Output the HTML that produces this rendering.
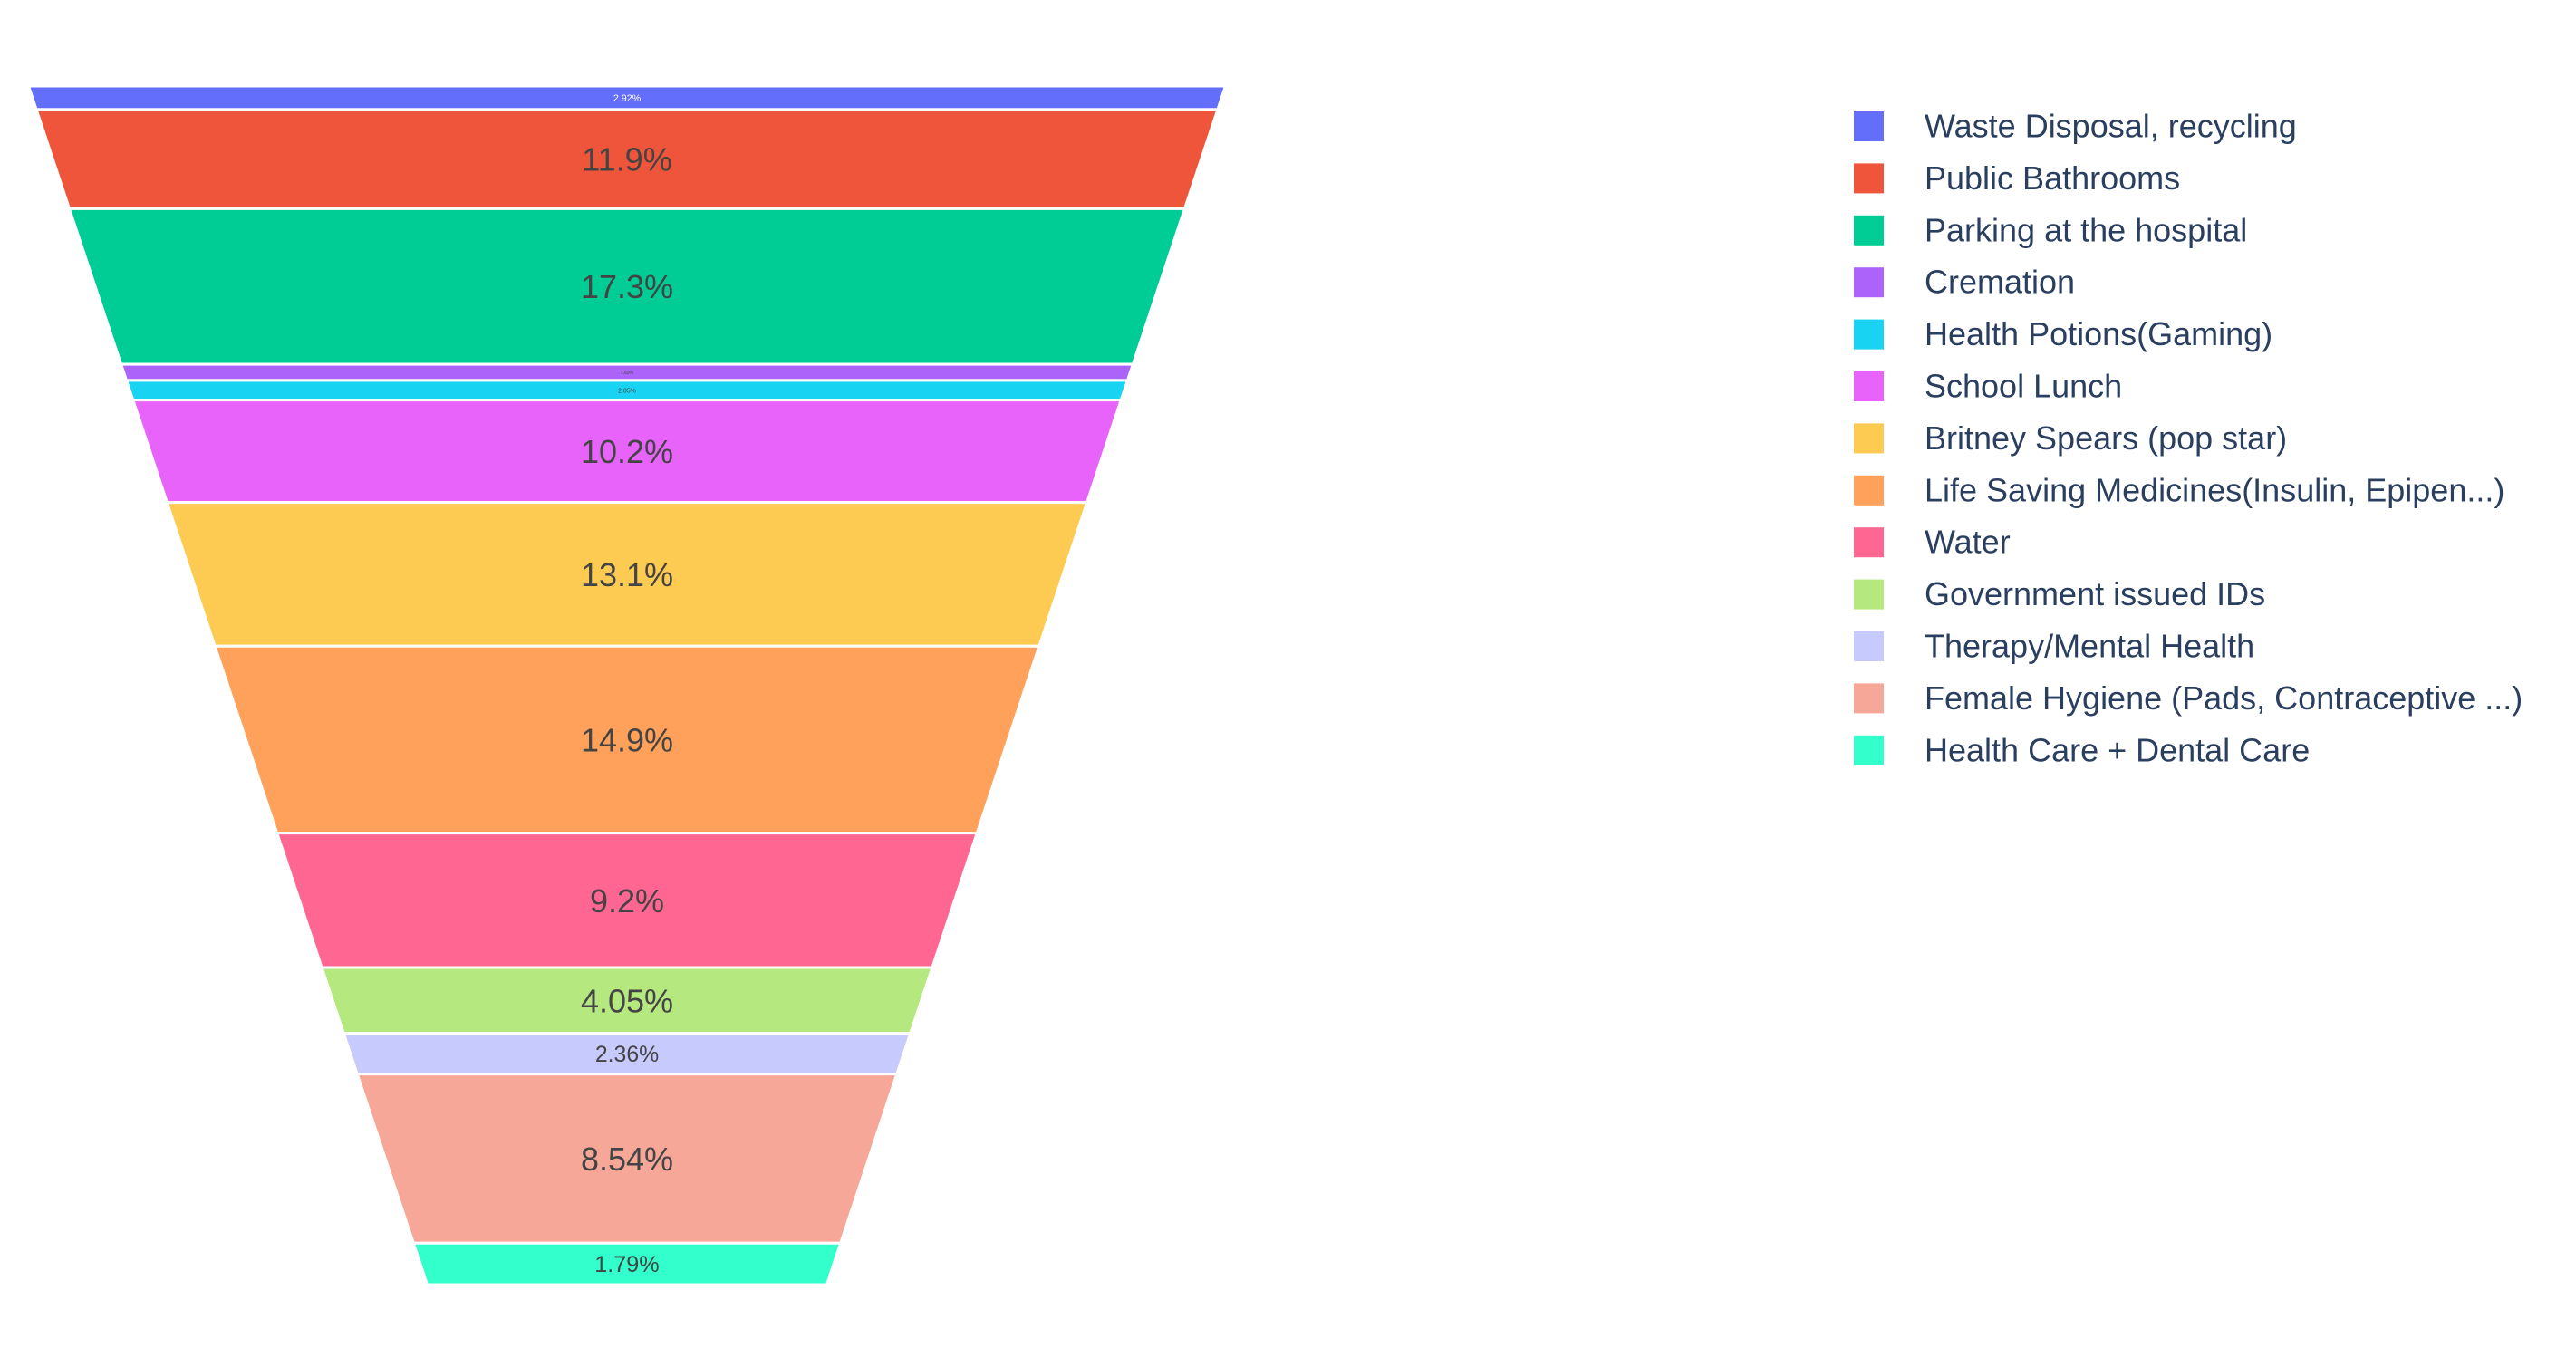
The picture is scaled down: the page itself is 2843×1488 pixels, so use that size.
<!DOCTYPE html>
<html><head><meta charset="utf-8"><style>
html,body{margin:0;padding:0;background:#fff;}
svg{display:block;}
text{font-family:"Liberation Sans",sans-serif;}
</style></head><body>
<svg id="chart" width="2843" height="1488" viewBox="0 0 2843 1488">
<g id="funnel"></g>
<g id="legend"></g>
</svg>
<script>
const categories = ["Waste Disposal, recycling","Public Bathrooms","Parking at the hospital","Cremation","Health Potions(Gaming)","School Lunch","Britney Spears (pop star)","Life Saving Medicines(Insulin,  Epipen...)","Water","Government issued IDs","Therapy/Mental Health","Female Hygiene (Pads, Contraceptive ...)","Health Care + Dental Care"];
const values = [2.92,11.9,17.3,1.69,2.05,10.2,13.1,14.9,9.2,4.05,2.36,8.54,1.79];
const labels = ["2.92%","11.9%","17.3%","1.69%","2.05%","10.2%","13.1%","14.9%","9.2%","4.05%","2.36%","8.54%","1.79%"];
const colors = ["#636efa","#EF553B","#00cc96","#ab63fa","#19d3f3","#e763fa","#FECB52","#FFA15A","#FF6692","#B6E880","#c6cafc","#f6a798","#33ffcc"];

const NS="http://www.w3.org/2000/svg";
const fg=document.getElementById('funnel');
const lg=document.getElementById('legend');
const cx=692, y0=95, y1=1418, W0=1321, W1=441;
const H=y1-y0, k=(W0-W1)/H;
const totalArea=(W0+W1)/2*H;
const total=values.reduce((a,b)=>a+b,0);
function yAt(frac){
  const A=frac*totalArea;
  if(k===0) return y0+A/W0;
  const t=(W0-Math.sqrt(W0*W0-2*k*A))/k;
  return y0+t;
}
function wAt(y){return W0-k*(y-y0);}
let cum=0;
values.forEach((v,i)=>{
  const ya=yAt(cum/total); cum+=v; const yb=yAt(cum/total);
  const wa=wAt(ya), wb=wAt(yb);
  const p=document.createElementNS(NS,'polygon');
  p.setAttribute('points',`${cx-wa/2},${ya} ${cx+wa/2},${ya} ${cx+wb/2},${yb} ${cx-wb/2},${yb}`);
  p.setAttribute('fill',colors[i]);p.setAttribute('stroke','#fff');p.setAttribute('stroke-width','3');
  
  
  fg.appendChild(p);
  const h=yb-ya;
  let fs=Math.min(36,h*0.55);
  if(h<26) fs=Math.max(5,(h-14)*0.9);
  const t=document.createElementNS(NS,'text');
  t.setAttribute('x',cx);t.setAttribute('y',(ya+yb)/2+fs*0.36);
  t.setAttribute('text-anchor','middle');t.setAttribute('font-size',fs.toFixed(1));
  t.setAttribute('fill',i===0?'#ffffff':'#444444');
  t.textContent=labels[i];
  
  
  fg.appendChild(t);
});
categories.forEach((c,i)=>{
  const yc=139.5+i*57.4;
  const r=document.createElementNS(NS,'rect');
  r.setAttribute('x',2046);r.setAttribute('y',yc-16.5);r.setAttribute('width',33);r.setAttribute('height',33);
  r.setAttribute('fill',colors[i]);
  
  
  lg.appendChild(r);
  const t=document.createElementNS(NS,'text');
  t.setAttribute('x',2124);t.setAttribute('y',yc+12);t.setAttribute('font-size','36');t.setAttribute('fill','#2a3f5f');
  t.textContent=c;
  
  
  lg.appendChild(t);
});
</script>
</body></html>
